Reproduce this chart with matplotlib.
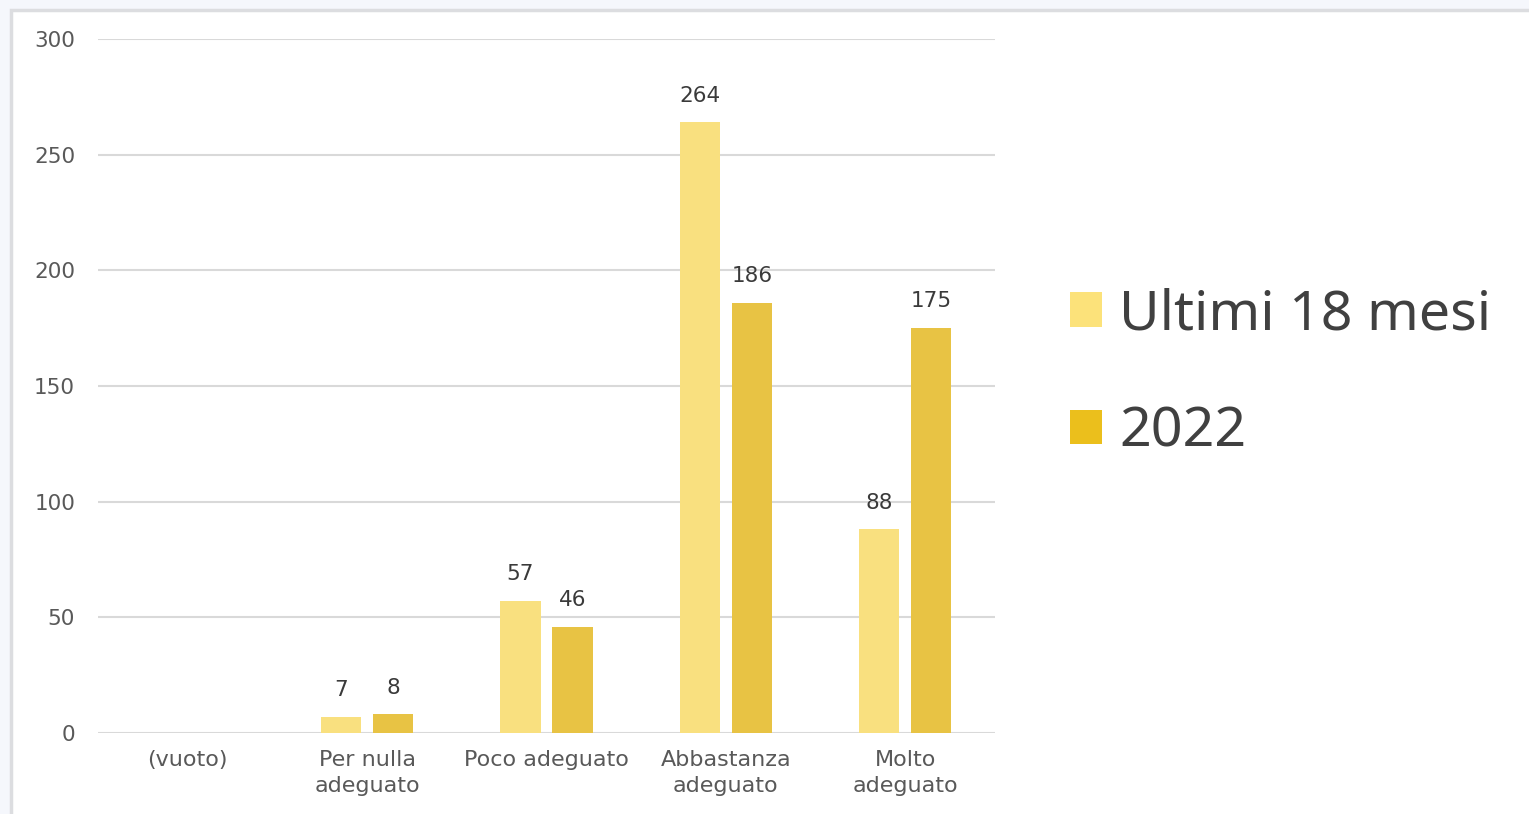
import numpy as np
import matplotlib.pyplot as plt
from matplotlib.patches import Patch, Rectangle
from matplotlib.font_manager import FontProperties

categories = ["(vuoto)", "Per nulla\nadeguato", "Poco adeguato",
              "Abbastanza\nadeguato", "Molto\nadeguato"]
ultimi_18_mesi = [0, 7, 57, 264, 88]
anno_2022 = [0, 8, 46, 186, 175]
series_names = ["Ultimi 18 mesi", "2022"]
yticks = [0, 50, 100, 150, 200, 250, 300]

col_ultimi = "#f9e07f"
col_2022 = "#e8c344"
leg_ultimi = "#fce27a"
leg_2022 = "#ebbf1c"

fig = plt.figure(figsize=(15.29, 8.14), dpi=100, facecolor="#f5f7fc")

# white card behind the chart
card = Rectangle((11 / 1529, -0.01), 1.0, 1 - 10 / 814 + 0.01, transform=fig.transFigure,
                 facecolor="white", edgecolor="#dcdde0", linewidth=2.5, zorder=-5)
fig.patches.append(card)

ax = fig.add_axes([98 / 1529, 1 - 733 / 814, 897 / 1529, 694 / 814])
ax.set_facecolor("none")

x = np.arange(len(categories))
w = 0.225
off = 0.145
b1 = ax.bar(x - off, ultimi_18_mesi, w, color=col_ultimi, zorder=3)
b2 = ax.bar(x + off, anno_2022, w, color=col_2022, zorder=3)

for bars, vals in ((b1, ultimi_18_mesi), (b2, anno_2022)):
    labels = [str(v) if v else "" for v in vals]
    ax.bar_label(bars, labels=labels, padding=12, fontsize=15.5,
                 color="#3a3a3a", family="DejaVu Sans")

ax.set_xlim(-0.5, len(categories) - 0.5)
ax.set_ylim(0, 300)
ax.set_yticks(yticks)
ax.set_xticks(x)
ax.set_xticklabels(categories, fontsize=16, color="#595959",
                   family="DejaVu Sans", linespacing=1.4)
ax.tick_params(axis="y", labelsize=15.5, labelcolor="#595959", length=0, pad=16.5)
ax.tick_params(axis="x", length=0, pad=12)
for lab in ax.get_yticklabels():
    lab.set_family("DejaVu Sans")
ax.grid(axis="y", color="#d9d9d9", linewidth=1.5, zorder=0)
for s in ax.spines.values():
    s.set_visible(False)

leg_font = FontProperties(family="Noto Sans", size=40)
handles = [Patch(facecolor=leg_ultimi), Patch(facecolor=leg_2022)]
fig.legend(handles, series_names, loc="upper left", bbox_to_anchor=(1070 / 1529, 1 - 287 / 814),
           frameon=False, prop=leg_font,
           handlelength=0.58, handleheight=0.58, handletextpad=0.3, labelspacing=1.13,
           borderpad=0, borderaxespad=0, labelcolor="#404040")

plt.savefig("out.png", dpi=100, facecolor=fig.get_facecolor())
